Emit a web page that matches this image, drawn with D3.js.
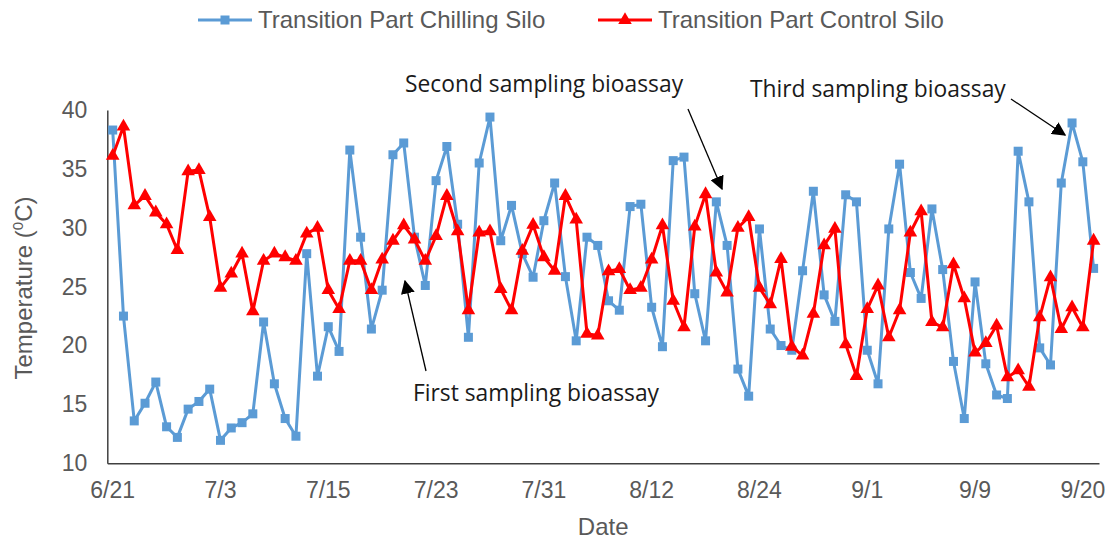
<!DOCTYPE html>
<html>
<head>
<meta charset="utf-8">
<script src="https://cdn.jsdelivr.net/npm/d3@7/dist/d3.min.js"></script>
<style>
  html, body { margin: 0; padding: 0; background: #fff; }
  svg { display: block; }
  .tick text { font-family: "Liberation Sans", Arial, sans-serif; fill: #595959; }
</style>
</head>
<body>
<svg id="chart" width="1109" height="542"></svg>
<script>
// Daily temperature readings (°C), one value per day
const chillingSilo = [
  38.3, 22.5, 13.6, 15.1, 16.9, 13.1, 12.2, 14.6, 15.25, 16.3,
  11.95, 13.0, 13.45, 14.2, 22.0, 16.75, 13.8, 12.3, 27.8, 17.4,
  21.6, 19.5, 36.6, 29.2, 21.4, 24.7, 36.2, 37.2, 29.2, 25.1,
  34.0, 36.9, 30.3, 20.7, 35.5, 39.4, 28.9, 31.9, 27.8, 25.8,
  30.6, 33.8, 25.85, 20.4, 29.2, 28.5, 23.8, 23.0, 31.8, 32.0,
  23.25, 19.9, 35.7, 36.0, 24.4, 20.4, 32.2, 28.5, 18.0, 15.7,
  29.9, 21.4, 20.0, 19.6, 26.35, 33.1, 24.3, 22.05, 32.8, 32.2,
  19.6, 16.75, 29.9, 35.4, 26.2, 24.0, 31.6, 26.45, 18.65, 13.8,
  25.4, 18.45, 15.8, 15.5, 36.5, 32.2, 19.8, 18.35, 33.8, 38.9,
  35.6, 26.55
];
const controlSilo = [
  36.1, 38.6, 31.9, 32.7, 31.3, 30.3, 28.1, 34.8, 34.9, 30.9,
  24.9, 26.1, 27.8, 22.9, 27.2, 27.8, 27.5, 27.2, 29.5, 30.0,
  24.7, 23.1, 27.2, 27.2, 24.7, 27.3, 28.9, 30.2, 29.0, 27.2,
  29.3, 32.7, 29.7, 23.0, 29.6, 29.7, 24.8, 23.0, 28.05, 30.25,
  27.5, 26.35, 32.7, 30.7, 21.0, 20.85, 26.3, 26.5, 24.7, 24.9,
  27.3, 30.2, 23.8, 21.55, 30.1, 32.85, 26.2, 24.5, 30.0, 30.9,
  24.9, 23.5, 27.35, 19.9, 19.15, 22.7, 28.5, 29.9, 20.1, 17.4,
  23.1, 25.1, 20.7, 23.0, 29.6, 31.4, 22.0, 21.55, 26.9, 24.0,
  19.4, 20.2, 21.7, 17.3, 17.9, 16.5, 22.4, 25.8, 21.4, 23.25,
  21.55, 28.9
];
// Date labels shown every tenth reading
const dateLabels = ["6/21", "7/3", "7/15", "7/23", "7/31", "8/12", "8/24", "9/1", "9/9", "9/20"];
const labelStep = 10;
const yTicks = [10, 15, 20, 25, 30, 35, 40];
const seriesNames = ["Transition Part Chilling Silo", "Transition Part Control Silo"];

const svg = d3.select("#chart");
const plot = { left: 107.3, right: 1099, top: 110, bottom: 463.3 };

const x = d3.scaleBand()
  .domain(d3.range(chillingSilo.length))
  .range([plot.left, plot.right])
  .padding(0);
const cx = i => x(i) + x.bandwidth() / 2;
const y = d3.scaleLinear().domain([10, 40]).range([plot.bottom, plot.top]);

// Axes
const yAxis = svg.append("g")
  .attr("transform", `translate(${plot.left},0)`)
  .call(d3.axisLeft(y).tickValues(yTicks).tickSize(0).tickSizeOuter(0).tickPadding(20));
yAxis.select(".domain").attr("stroke", "#404040").attr("stroke-width", 1.5);
yAxis.selectAll(".tick text").attr("font-size", 23);

const xAxis = svg.append("g")
  .attr("transform", `translate(0,${plot.bottom})`)
  .call(d3.axisBottom(x)
    .tickValues(dateLabels.map((d, k) => k * labelStep))
    .tickFormat(i => dateLabels[i / labelStep])
    .tickSize(0).tickSizeOuter(0).tickPadding(18));
xAxis.select(".domain").attr("stroke", "#404040").attr("stroke-width", 1.5);
xAxis.selectAll(".tick text").attr("font-size", 23);

// Axis titles
svg.append("text")
  .attr("x", (plot.left + plot.right) / 2).attr("y", 535)
  .attr("text-anchor", "middle")
  .attr("font-family", "Liberation Sans, Arial, sans-serif")
  .attr("font-size", 24).attr("fill", "#595959")
  .text("Date");

const yTitle = svg.append("text")
  .attr("transform", "translate(32,288) rotate(-90)")
  .attr("text-anchor", "middle")
  .attr("font-family", "Liberation Sans, Arial, sans-serif")
  .attr("font-size", 24).attr("fill", "#595959");
yTitle.append("tspan").text("Temperature (");
yTitle.append("tspan").attr("font-size", 15).attr("dy", -9).text("0");
yTitle.append("tspan").attr("dy", 9).text("C)");

// Series lines and markers
const line = d3.line().x((d, i) => cx(i)).y(d => y(d));
const blue = "#5B9BD5", red = "#FF0000";

svg.append("path").datum(chillingSilo)
  .attr("d", line).attr("fill", "none")
  .attr("stroke", blue).attr("stroke-width", 3).attr("stroke-linejoin", "round");
svg.append("g").selectAll("rect").data(chillingSilo).join("rect")
  .attr("x", (d, i) => cx(i) - 4.5).attr("y", d => y(d) - 4.5)
  .attr("width", 9).attr("height", 9).attr("fill", blue);

svg.append("path").datum(controlSilo)
  .attr("d", line).attr("fill", "none")
  .attr("stroke", red).attr("stroke-width", 3).attr("stroke-linejoin", "round");
const tri = d3.symbol().type(d3.symbolTriangle).size(80);
svg.append("g").selectAll("path").data(controlSilo).join("path")
  .attr("d", tri)
  .attr("transform", (d, i) => `translate(${cx(i)},${y(d)})`)
  .attr("fill", red);

// Legend
const legend = svg.append("g").attr("font-family", "Liberation Sans, Arial, sans-serif")
  .attr("font-size", 24).attr("fill", "#595959");
const legendItems = [
  { name: seriesNames[0], color: blue, x0: 198, tx: 258, kind: "square" },
  { name: seriesNames[1], color: red, x0: 598, tx: 658, kind: "triangle" }
];
legendItems.forEach(it => {
  legend.append("line")
    .attr("x1", it.x0).attr("x2", it.x0 + 54).attr("y1", 20).attr("y2", 20)
    .attr("stroke", it.color).attr("stroke-width", 3);
  if (it.kind === "square") {
    legend.append("rect").attr("x", it.x0 + 27 - 4.5).attr("y", 15.5)
      .attr("width", 9).attr("height", 9).attr("fill", it.color);
  } else {
    legend.append("path").attr("d", tri)
      .attr("transform", `translate(${it.x0 + 27},20)`).attr("fill", it.color);
  }
  legend.append("text").attr("x", it.tx).attr("y", 20).attr("dy", "0.35em")
    .text(it.name);
});

// Annotations with arrows
const defs = svg.append("defs");
defs.append("marker")
  .attr("id", "arrowhead")
  .attr("viewBox", "0 0 10 10").attr("refX", 9).attr("refY", 5)
  .attr("markerWidth", 14).attr("markerHeight", 14)
  .attr("markerUnits", "userSpaceOnUse")
  .attr("orient", "auto")
  .append("path").attr("d", "M0,0 L10,5 L0,10 Z").attr("fill", "#000");

const notes = [
  { text: "Second sampling bioassay", tx: 405, ty: 92, from: [688, 109], to: [722, 189] },
  { text: "Third sampling bioassay", tx: 750, ty: 97, from: [1011, 99], to: [1065, 135] },
  { text: "First sampling bioassay", tx: 413, ty: 401, from: [426, 371], to: [405, 281] }
];
notes.forEach(n => {
  svg.append("text").attr("x", n.tx).attr("y", n.ty)
    .attr("font-family", "Open Sans, Lato, sans-serif")
    .attr("font-size", 22.8).attr("fill", "#1a1a1a")
    .text(n.text);
  svg.append("line")
    .attr("x1", n.from[0]).attr("y1", n.from[1])
    .attr("x2", n.to[0]).attr("y2", n.to[1])
    .attr("stroke", "#000").attr("stroke-width", 1.3)
    .attr("marker-end", "url(#arrowhead)");
});
</script>
</body>
</html>
